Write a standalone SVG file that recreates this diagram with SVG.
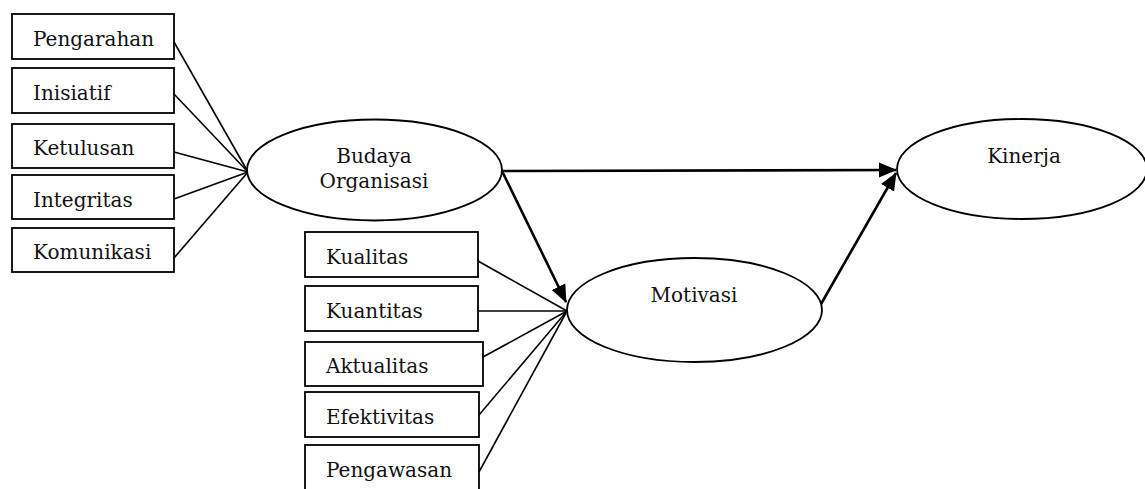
<svg xmlns="http://www.w3.org/2000/svg" width="1145" height="489" viewBox="0 0 1145 489">
<style>
.box{fill:#fff;stroke:#000;stroke-width:1.8}
.ell{fill:#fff;stroke:#000;stroke-width:1.8}
.t{font-family:"DejaVu Serif","Liberation Serif",serif;font-size:20px;fill:#111}
.c{text-anchor:middle}
.thin{stroke:#000;stroke-width:1.6;fill:none}
.arr{stroke:#000;stroke-width:2.6;fill:none;marker-end:url(#ah)}
</style>
<defs>
<marker id="ah" markerUnits="userSpaceOnUse" markerWidth="18" markerHeight="16" refX="17" refY="7.5" orient="auto" viewBox="0 0 18 15">
<path d="M0,0 L18,7.5 L0,15 z" fill="#000"/>
</marker>
</defs>
<rect width="1145" height="489" fill="#fff"/>
<g id="connectors">
<line class="thin" x1="174" y1="42" x2="248" y2="172"/>
<line class="thin" x1="174" y1="94" x2="248" y2="172"/>
<line class="thin" x1="174" y1="152" x2="248" y2="172"/>
<line class="thin" x1="174" y1="199" x2="248" y2="172"/>
<line class="thin" x1="174" y1="258" x2="248" y2="172"/>
<line class="thin" x1="478" y1="261" x2="567" y2="311"/>
<line class="thin" x1="478" y1="311" x2="567" y2="311"/>
<line class="thin" x1="483" y1="357" x2="567" y2="311"/>
<line class="thin" x1="479" y1="415" x2="567" y2="311"/>
<line class="thin" x1="479" y1="472" x2="567" y2="311"/>
<line class="arr" x1="502" y1="171" x2="896" y2="170"/>
<line class="arr" x1="502" y1="171" x2="566" y2="302"/>
<line class="arr" x1="821" y1="304" x2="896" y2="173"/>
</g>
<g id="pengarahan"><rect class="box" x="12" y="14" width="162" height="45"/><text class="t" x="33" y="46">Pengarahan</text></g>
<g id="inisiatif"><rect class="box" x="12" y="68" width="162" height="45"/><text class="t" x="33" y="100">Inisiatif</text></g>
<g id="ketulusan"><rect class="box" x="12" y="124" width="162" height="44"/><text class="t" x="33" y="155">Ketulusan</text></g>
<g id="integritas"><rect class="box" x="12" y="175" width="162" height="44"/><text class="t" x="33" y="207">Integritas</text></g>
<g id="komunikasi"><rect class="box" x="12" y="228" width="162" height="44"/><text class="t" x="33" y="259">Komunikasi</text></g>
<g id="budaya"><ellipse class="ell" cx="374.5" cy="170" rx="127.5" ry="50.5"/><text class="t c" x="374" y="163">Budaya</text><text class="t c" x="374" y="188">Organisasi</text></g>
<g id="kinerja"><ellipse class="ell" cx="1022" cy="169" rx="125" ry="50"/><text class="t c" x="1024" y="163">Kinerja</text></g>
<g id="motivasi"><ellipse class="ell" cx="694.5" cy="310" rx="127.5" ry="52"/><text class="t c" x="694" y="302">Motivasi</text></g>
<g id="kualitas"><rect class="box" x="305" y="232" width="173" height="45"/><text class="t" x="326" y="264">Kualitas</text></g>
<g id="kuantitas"><rect class="box" x="305" y="286" width="173" height="45"/><text class="t" x="326" y="318">Kuantitas</text></g>
<g id="aktualitas"><rect class="box" x="305" y="342" width="178" height="44"/><text class="t" x="326" y="373">Aktualitas</text></g>
<g id="efektivitas"><rect class="box" x="305" y="392" width="174" height="45"/><text class="t" x="326" y="424">Efektivitas</text></g>
<g id="pengawasan"><rect class="box" x="305" y="445" width="174" height="50"/><text class="t" x="326" y="477">Pengawasan</text></g>
</svg>
